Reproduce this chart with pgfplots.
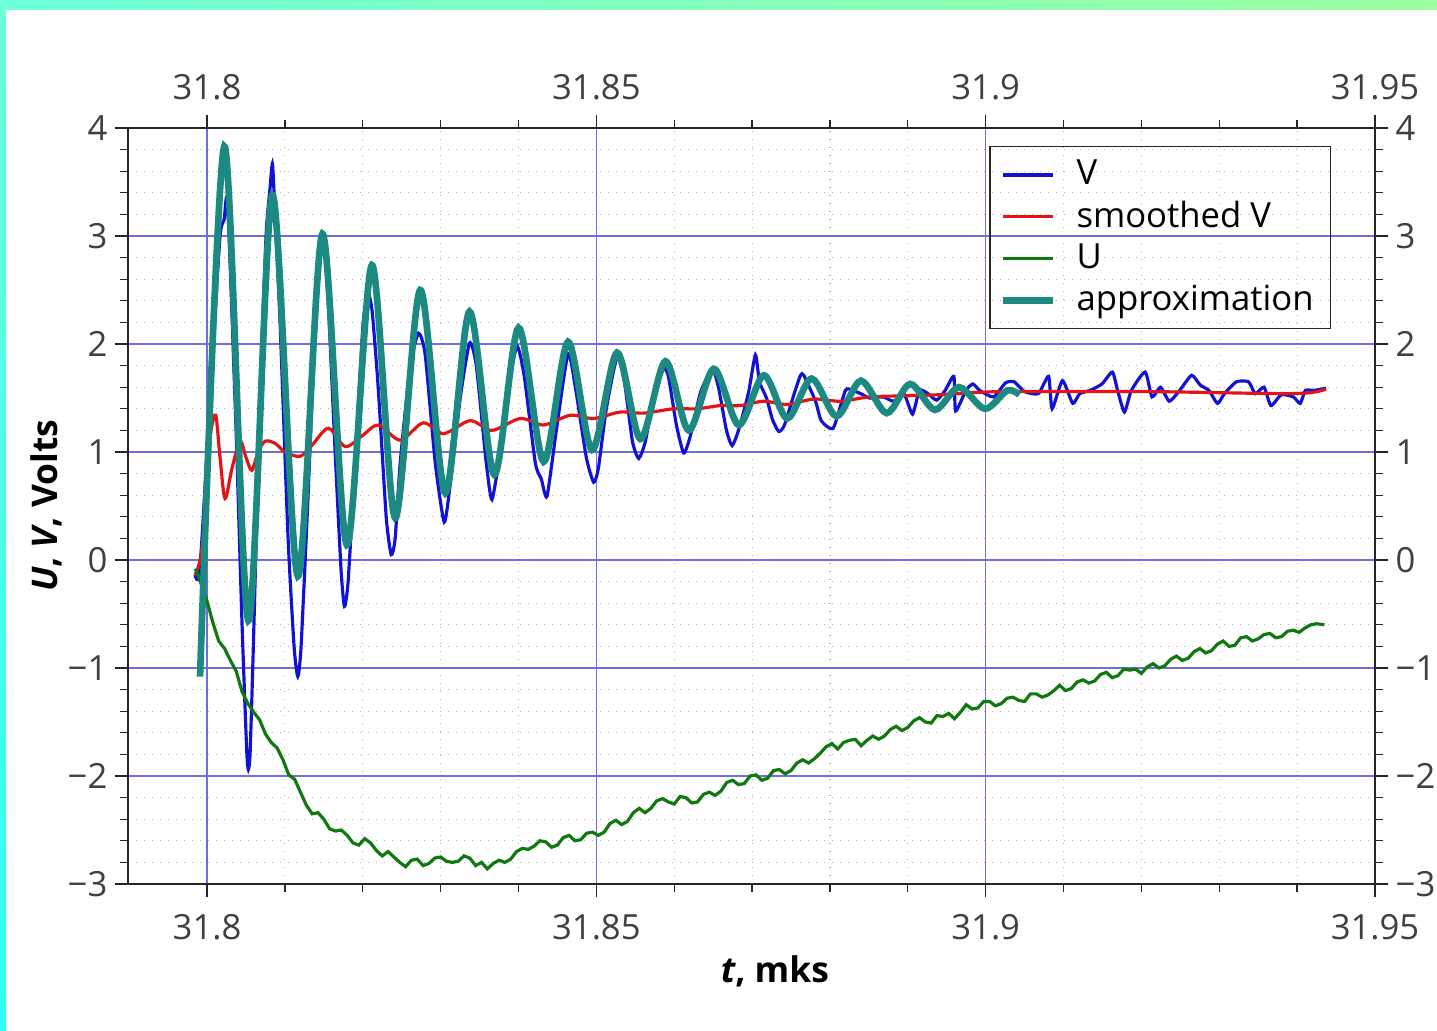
\documentclass[border=0pt]{standalone}
\usepackage{fontspec}
\setmainfont{Open Sans}
\usepackage{pgfplots}
\pgfplotsset{compat=1.18}

\definecolor{cV}{RGB}{18,18,215}
\definecolor{cS}{RGB}{228,20,20}
\definecolor{cU}{RGB}{15,120,15}
\definecolor{cA}{RGB}{28,138,128}
\definecolor{gridmaj}{RGB}{110,110,225}
\definecolor{tlab}{RGB}{64,64,64}
\definecolor{frTL}{RGB}{108,255,216}
\definecolor{frTR}{RGB}{156,255,160}
\definecolor{frBL}{RGB}{48,255,245}

% 1 px of the reference = 0.3pt
\pgfplotsset{
  common/.style={
    at={(38.4pt,44.1pt)}, anchor=south west,
    scale only axis, width=374.1pt, height=226.8pt,
    xmin=31.78985, xmax=31.95, ymin=-3, ymax=4,
    xtick={31.8,31.85,31.9,31.95}, xticklabels={31.8,31.85,31.9,31.95},
    ytick={-3,-2,-1,0,1,2,3,4}, yticklabels={−3,−2,−1,0,1,2,3,4},
    minor x tick num=4, minor y tick num=4,
    tick align=outside, major tick length=4pt, minor tick length=2.4pt,
    tick style={line width=0.4pt, black!85},
    axis line style={line width=0.4pt, black!85},
    tick label style={font=\fontsize{10.4pt}{12pt}\selectfont, text=tlab},
    yticklabel style={inner xsep=2pt},
  }
}

\begin{document}
\begin{tikzpicture}
\useasboundingbox (0,0) rectangle (431.1pt,309.3pt);
\fill[white] (0,0) rectangle (431.1pt,309.3pt);
\shade[left color=frTL, right color=frTR] (0,306.3pt) rectangle (431.1pt,309.3pt);
\shade[top color=frTL, bottom color=frBL] (0,0) rectangle (1.8pt,306.3pt);

\begin{axis}[common,
  xticklabel style={yshift=-1.5pt},
  grid=both,
  major grid style={gridmaj, line width=0.35pt},
  minor grid style={black!30, dotted, line width=0.35pt},
  xlabel={\textbf{\textit{t}, mks}},
  ylabel={\textbf{\textit{U}, \textit{V}, Volts}},
  label style={font=\fontsize{10.6pt}{12pt}\selectfont},
  xlabel style={xshift=7pt, yshift=2pt},
  ylabel shift=-3.9pt,
  legend cell align=left,
  legend style={at={(0.9647,0.976)}, anchor=north east, fill=none,
    draw=black!85, line width=0.4pt,
    font=\fontsize{10.4pt}{12.6pt}\selectfont,
    inner xsep=3pt, inner ysep=2pt, row sep=-0.6pt},
  legend image code/.code={\draw[#1] (0pt,0pt) -- (15pt,0pt); \path (19pt,0pt);},
]

% V
\addplot[cV, line width=0.95pt, smooth, tension=0.35] coordinates {
(31.79846,-0.14)(31.79910,-0.08)(31.80064,1.8)(31.80167,3.0)(31.80219,3.15)(31.80251,3.36)
(31.80283,3.0)(31.80373,1.2)(31.80450,-0.6)(31.80510,-1.77)(31.80531,-1.94)(31.80553,-1.79)
(31.80591,-0.9)(31.80681,1.5)(31.80758,3.0)(31.80810,3.45)(31.80839,3.67)(31.80861,3.4)
(31.80938,2.2)(31.81041,0.2)(31.81118,-0.8)(31.81166,-1.08)(31.81208,-0.8)(31.81298,0.6)
(31.81401,2.4)(31.81478,3.0)(31.81542,2.6)(31.81645,1.0)(31.81722,-0.1)(31.81765,-0.43)
(31.81812,-0.2)(31.81902,0.9)(31.82005,2.2)(31.82073,2.45)(31.82121,2.3)(31.82198,1.6)
(31.82301,0.4)(31.82365,0.05)(31.82416,0.2)(31.82481,0.9)(31.82609,1.8)(31.82716,2.10)
(31.82802,1.9)(31.82931,0.9)(31.83046,0.35)(31.83123,0.7)(31.83252,1.5)(31.83371,2.01)
(31.83458,1.8)(31.83586,0.9)(31.83659,0.56)(31.83766,1.0)(31.83869,1.6)(31.83981,1.98)
(31.84074,1.7)(31.84216,0.9)(31.84293,0.75)(31.84366,0.59)(31.84486,1.2)(31.84636,1.91)
(31.84730,1.6)(31.84871,0.95)(31.84965,0.72)(31.85026,0.85)(31.85128,1.4)(31.85266,1.88)
(31.85360,1.65)(31.85463,1.1)(31.85544,0.94)(31.85630,1.1)(31.85745,1.55)(31.85865,1.77)
(31.85925,1.7)(31.86028,1.25)(31.86122,0.99)(31.86208,1.15)(31.86337,1.55)(31.86487,1.77)
(31.86568,1.6)(31.86671,1.2)(31.86744,1.06)(31.86825,1.2)(31.86954,1.55)(31.87043,1.90)
(31.87095,1.65)(31.87185,1.5)(31.87262,1.3)(31.87343,1.19)(31.87416,1.25)(31.87545,1.55)
(31.87622,1.71)(31.87664,1.71)(31.87815,1.47)(31.87888,1.29)(31.88042,1.22)(31.88198,1.57)
(31.88286,1.57)(31.88397,1.54)(31.88507,1.50)(31.88684,1.51)(31.88817,1.47)(31.88950,1.54)
(31.89060,1.35)(31.89149,1.57)(31.89259,1.54)(31.89370,1.48)(31.89480,1.57)(31.89591,1.70)
(31.89614,1.38)(31.89746,1.57)(31.89835,1.63)(31.89924,1.57)(31.90100,1.51)(31.90255,1.64)
(31.90366,1.65)(31.90498,1.56)(31.90676,1.54)(31.90808,1.70)(31.90853,1.40)(31.90986,1.66)
(31.91118,1.45)(31.91207,1.54)(31.91340,1.57)(31.91494,1.63)(31.91627,1.74)(31.91694,1.57)
(31.91782,1.37)(31.91871,1.57)(31.92048,1.74)(31.92136,1.51)(31.92246,1.60)(31.92358,1.47)
(31.92491,1.57)(31.92645,1.71)(31.92755,1.62)(31.92867,1.57)(31.92978,1.45)(31.93066,1.54)
(31.93221,1.65)(31.93376,1.65)(31.93463,1.54)(31.93575,1.60)(31.93663,1.43)(31.93796,1.53)
(31.93951,1.51)(31.94039,1.45)(31.94106,1.57)(31.94217,1.57)(31.94371,1.59)
};
\addlegendentry{V}

% smoothed V
\addplot[cS, line width=0.95pt, smooth] coordinates {
(31.79846,-0.14)(31.79910,0.0)(31.79974,0.37)(31.80017,0.93)(31.80051,1.2)(31.80112,1.34)
(31.80167,0.95)(31.80231,0.57)(31.80321,0.85)(31.80424,1.10)(31.80501,0.95)(31.80575,0.83)
(31.80656,1.0)(31.80746,1.10)(31.80874,1.08)(31.81003,1.00)(31.81195,0.96)(31.81346,1.06)
(31.81559,1.22)(31.81774,1.05)(31.81992,1.15)(31.82202,1.25)(31.82481,1.11)(31.82776,1.27)
(31.83037,1.17)(31.83380,1.29)(31.83659,1.20)(31.84023,1.31)(31.84323,1.25)(31.84666,1.34)
(31.84965,1.31)(31.85308,1.37)(31.85608,1.36)(31.85993,1.40)(31.86294,1.40)(31.86594,1.43)
(31.86851,1.43)(31.87150,1.47)(31.87451,1.44)(31.87793,1.49)(31.88136,1.47)(31.88507,1.51)
(31.88950,1.52)(31.89392,1.53)(31.89835,1.55)(31.90278,1.56)(31.91163,1.56)(31.92048,1.56)
(31.92933,1.55)(31.93817,1.54)(31.94177,1.55)(31.94371,1.58)
};
\addlegendentry{smoothed V}

% U
\addplot[cU, line width=0.95pt] coordinates {
(31.7985,-0.08)(31.79925,-0.22)(31.8000,-0.38)(31.80075,-0.58)(31.8015,-0.75)(31.80225,-0.82)
(31.8030,-0.93)(31.80375,-1.03)(31.8045,-1.22)(31.80525,-1.33)(31.8060,-1.41)(31.80675,-1.48)
(31.8075,-1.61)(31.80825,-1.69)(31.8090,-1.74)(31.80975,-1.85)(31.8105,-1.99)(31.81125,-2.03)
(31.8120,-2.15)(31.81275,-2.27)(31.8135,-2.35)(31.81425,-2.34)(31.8150,-2.40)(31.81575,-2.49)
(31.8165,-2.51)(31.81725,-2.50)(31.8180,-2.55)(31.81875,-2.62)(31.8195,-2.64)(31.82025,-2.58)
(31.8210,-2.62)(31.82175,-2.69)(31.8225,-2.74)(31.82325,-2.70)(31.8240,-2.75)(31.82475,-2.80)
(31.8255,-2.84)(31.82625,-2.78)(31.8270,-2.77)(31.82775,-2.83)(31.8285,-2.81)(31.82925,-2.76)
(31.8300,-2.75)(31.83075,-2.79)(31.8315,-2.80)(31.83225,-2.79)(31.8330,-2.74)(31.83375,-2.76)
(31.8345,-2.83)(31.83525,-2.80)(31.8360,-2.86)(31.83675,-2.81)(31.8375,-2.78)(31.83825,-2.80)
(31.8390,-2.77)(31.83975,-2.70)(31.8405,-2.67)(31.84125,-2.68)(31.8420,-2.65)(31.84275,-2.60)
(31.8435,-2.61)(31.84425,-2.66)(31.8450,-2.64)(31.84575,-2.57)(31.8465,-2.55)(31.84725,-2.60)
(31.8480,-2.59)(31.84875,-2.53)(31.8495,-2.52)(31.85025,-2.55)(31.8510,-2.52)(31.85175,-2.44)
(31.8525,-2.41)(31.85325,-2.45)(31.8540,-2.42)(31.85475,-2.34)(31.8555,-2.30)(31.85625,-2.34)
(31.8570,-2.30)(31.85775,-2.23)(31.8585,-2.21)(31.85925,-2.24)(31.8600,-2.26)(31.86075,-2.19)
(31.8615,-2.20)(31.86225,-2.25)(31.8630,-2.24)(31.86375,-2.17)(31.8645,-2.15)(31.86525,-2.18)
(31.8660,-2.14)(31.86675,-2.06)(31.8675,-2.04)(31.86825,-2.08)(31.8690,-2.07)(31.86975,-2.00)
(31.8705,-1.99)(31.87125,-2.04)(31.8720,-2.02)(31.87275,-1.95)(31.8735,-1.94)(31.87425,-1.98)
(31.8750,-1.95)(31.87575,-1.88)(31.8765,-1.85)(31.87725,-1.88)(31.8780,-1.84)(31.87875,-1.79)
(31.8795,-1.73)(31.88025,-1.70)(31.8810,-1.75)(31.88175,-1.69)(31.8825,-1.67)(31.88325,-1.66)
(31.8840,-1.72)(31.88475,-1.67)(31.8855,-1.63)(31.88625,-1.66)(31.8870,-1.63)(31.88775,-1.57)
(31.8885,-1.54)(31.88925,-1.58)(31.8900,-1.55)(31.89075,-1.49)(31.8915,-1.46)(31.89225,-1.50)
(31.8930,-1.51)(31.89375,-1.44)(31.8945,-1.45)(31.89525,-1.42)(31.8960,-1.47)(31.89675,-1.41)
(31.8975,-1.34)(31.89825,-1.38)(31.8990,-1.37)(31.89975,-1.31)(31.9005,-1.31)(31.90125,-1.35)
(31.9020,-1.33)(31.90275,-1.28)(31.9035,-1.27)(31.90425,-1.30)(31.9050,-1.31)(31.90575,-1.24)
(31.9065,-1.24)(31.90725,-1.27)(31.9080,-1.25)(31.90875,-1.21)(31.9095,-1.16)(31.91025,-1.21)
(31.9110,-1.19)(31.91175,-1.13)(31.9125,-1.11)(31.91325,-1.14)(31.9140,-1.12)(31.91475,-1.06)
(31.9155,-1.04)(31.91625,-1.09)(31.9170,-1.07)(31.91775,-1.01)(31.9185,-1.02)(31.91925,-1.01)
(31.9200,-1.05)(31.92075,-0.99)(31.9215,-0.96)(31.92225,-1.00)(31.9230,-0.98)(31.92375,-0.92)
(31.9245,-0.89)(31.92525,-0.93)(31.9260,-0.91)(31.92675,-0.85)(31.9275,-0.82)(31.92825,-0.86)
(31.9290,-0.84)(31.92975,-0.78)(31.9305,-0.75)(31.93125,-0.80)(31.9320,-0.79)(31.93275,-0.72)
(31.9335,-0.71)(31.93425,-0.75)(31.9350,-0.73)(31.93575,-0.69)(31.9365,-0.68)(31.93725,-0.72)
(31.9380,-0.71)(31.93875,-0.66)(31.9395,-0.65)(31.94025,-0.67)(31.9410,-0.63)(31.94175,-0.60)
(31.9425,-0.59)(31.9435,-0.60)
};
\addlegendentry{U}

% approximation
\addplot[cA, line width=2pt, smooth] coordinates {
(31.79910,-1.08)(31.80222,3.83)(31.80531,-0.56)(31.80839,3.38)(31.81166,-0.15)(31.81482,3.02)
(31.81796,0.14)(31.82117,2.73)(31.82416,0.39)(31.82738,2.50)(31.83059,0.62)(31.83371,2.30)
(31.83689,0.79)(31.84001,2.15)(31.84323,0.91)(31.84636,2.02)(31.84945,1.02)(31.85266,1.92)
(31.85566,1.12)(31.85887,1.84)(31.86186,1.20)(31.86508,1.77)(31.86829,1.25)(31.87150,1.71)
(31.87451,1.31)(31.87764,1.68)(31.88085,1.33)(31.88397,1.66)(31.88728,1.36)(31.89030,1.63)
(31.89348,1.39)(31.89658,1.60)(31.89990,1.40)(31.90278,1.57)(31.90433,1.53)
};
\addlegendentry{approximation}
\end{axis}

% labels on top and right
\begin{axis}[common, xticklabel pos=upper, yticklabel pos=right,
  xticklabel style={yshift=1pt}]
\end{axis}
\end{tikzpicture}
\end{document}
